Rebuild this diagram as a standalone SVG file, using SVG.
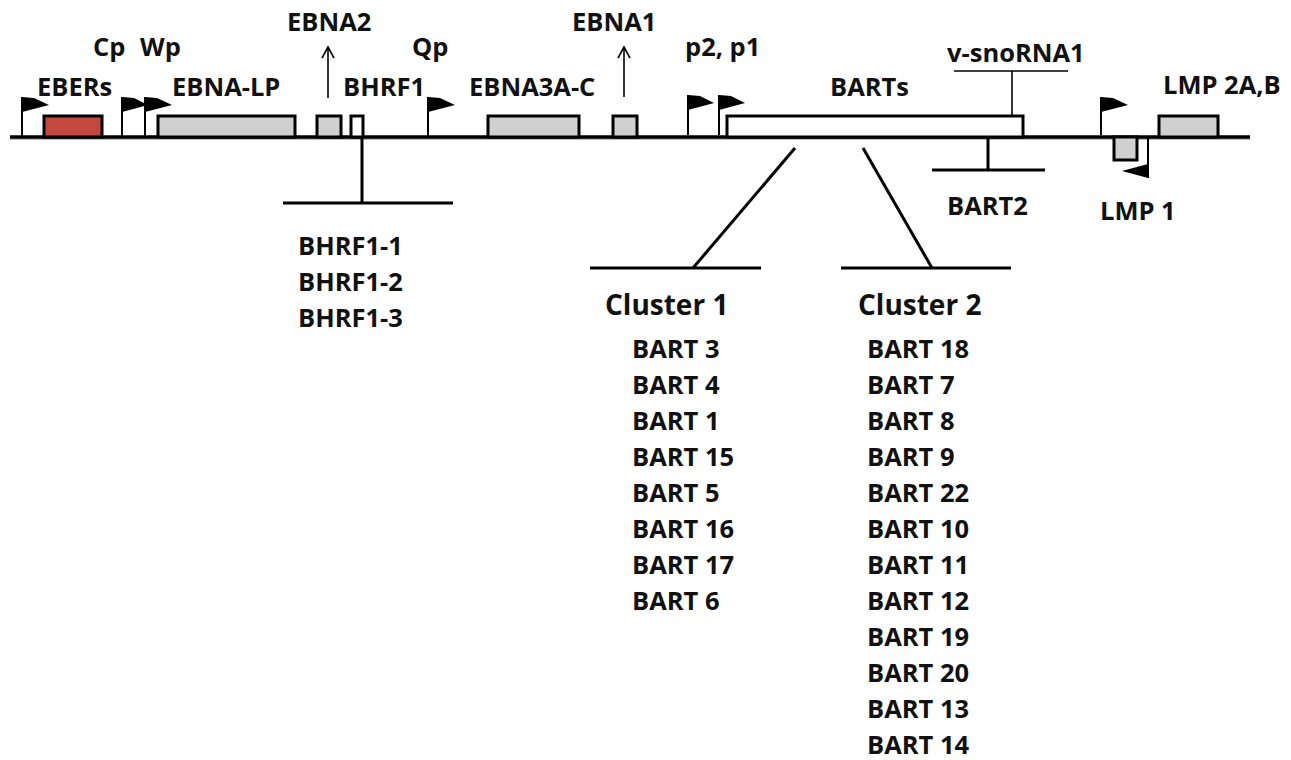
<svg xmlns="http://www.w3.org/2000/svg" width="1291" height="760" viewBox="0 0 1291 760">
<style>
text{font-family:"Open Sans","Liberation Sans",sans-serif;font-weight:bold;font-size:25.5px;fill:#111}
.cl{font-size:28px}
.box{stroke:#000;stroke-width:3}
.gray{fill:#d0d0d0}
.white{fill:#fff}
.red{fill:#c4483f}
.pole{stroke:#000;stroke-width:2;fill:none}
.flag{fill:#000}
.thick{stroke:#000;stroke-width:3;fill:none}
.thin{stroke:#000;stroke-width:1.6;fill:none}
</style>
<g id="genome">
<line x1="10" y1="138.5" x2="1250" y2="138.5" stroke="#bbb" stroke-width="3"/>
<line class="thick" x1="10" y1="137" x2="1250" y2="137" style="stroke-width:3.5"/>
</g>
<g id="EBERs">
<line class="pole" x1="22" y1="97" x2="22" y2="137"/>
<path class="flag" d="M22,97 L34,98 L49,105 L22,112 Z"/>
<rect class="box red" x="44" y="116" width="58" height="21"/>
<text x="37" y="96">EBERs</text>
</g>
<g id="Cp">
<line class="pole" x1="122" y1="97" x2="122" y2="137"/>
<path class="flag" d="M122,97 L134,98 L148,105 L122,112 Z"/>
<text x="93" y="56">Cp</text>
</g>
<g id="Wp">
<line class="pole" x1="145" y1="97" x2="145" y2="137"/>
<path class="flag" d="M145,97 L157,98 L172,105 L145,112 Z"/>
<text x="140" y="56">Wp</text>
</g>
<g id="EBNA-LP">
<rect class="box gray" x="158" y="116" width="137" height="21"/>
<text x="172" y="96">EBNA-LP</text>
</g>
<g id="EBNA2">
<rect class="box gray" x="317" y="116" width="24" height="21"/>
<text x="287" y="31">EBNA2</text>
</g>
<g id="BHRF1">
<rect class="box white" x="351" y="116" width="12" height="21"/>
<text x="343" y="96">BHRF1</text>
</g>
<g id="Qp">
<line class="pole" x1="428" y1="97" x2="428" y2="137"/>
<path class="flag" d="M428,97 L440,98 L455,105 L428,112 Z"/>
<text x="412" y="56">Qp</text>
</g>
<g id="EBNA3A-C">
<rect class="box gray" x="488" y="116" width="91" height="21"/>
<text x="469" y="96">EBNA3A-C</text>
</g>
<g id="EBNA1">
<rect class="box gray" x="613" y="116" width="24" height="21"/>
<text x="572" y="31">EBNA1</text>
</g>
<g id="p2p1">
<line class="pole" x1="688" y1="95" x2="688" y2="135"/>
<path class="flag" d="M688,95 L700,96 L714,103 L688,110 Z"/>
<line class="pole" x1="719" y1="95" x2="719" y2="135"/>
<path class="flag" d="M719,95 L731,96 L745,103 L719,110 Z"/>
<text x="685" y="56">p2, p1</text>
</g>
<g id="BARTs">
<rect class="box white" x="727" y="116" width="296" height="21"/>
<text x="830" y="96">BARTs</text>
</g>
<g id="v-snoRNA1">
<text x="947" y="62">v-snoRNA1</text>
</g>
<g id="BART2">
<text x="947" y="215">BART2</text>
</g>
<g id="LMP1">
<line class="pole" x1="1101" y1="97" x2="1101" y2="135"/>
<path class="flag" d="M1101,97 L1113,98 L1128,105 L1101,112 Z"/>
<rect class="box gray" x="1114" y="137" width="23" height="23"/>
<line class="pole" x1="1148" y1="137" x2="1148" y2="178"/>
<path class="flag" d="M1148,164 L1122,171 L1148,178 Z"/>
<text x="1100" y="220">LMP 1</text>
</g>
<g id="LMP2AB">
<rect class="box gray" x="1159" y="116" width="59" height="21"/>
<text x="1163" y="94">LMP 2A,B</text>
</g>
<g id="BHRF1-miRNAs">
<text x="298" y="255">BHRF1-1</text>
<text x="298" y="291">BHRF1-2</text>
<text x="298" y="327">BHRF1-3</text>
</g>
<g id="Cluster1">
<text class="cl" x="605" y="315">Cluster 1</text>
<text x="632" y="358">BART 3</text>
<text x="632" y="394">BART 4</text>
<text x="632" y="430">BART 1</text>
<text x="632" y="466">BART 15</text>
<text x="632" y="502">BART 5</text>
<text x="632" y="538">BART 16</text>
<text x="632" y="574">BART 17</text>
<text x="632" y="610">BART 6</text>
</g>
<g id="Cluster2">
<text class="cl" x="858" y="315">Cluster 2</text>
<text x="867" y="358">BART 18</text>
<text x="867" y="394">BART 7</text>
<text x="867" y="430">BART 8</text>
<text x="867" y="466">BART 9</text>
<text x="867" y="502">BART 22</text>
<text x="867" y="538">BART 10</text>
<text x="867" y="574">BART 11</text>
<text x="867" y="610">BART 12</text>
<text x="867" y="646">BART 19</text>
<text x="867" y="682">BART 20</text>
<text x="867" y="718">BART 13</text>
<text x="867" y="754">BART 14</text>
</g>
<g id="connectors">
<line class="thin" x1="328" y1="98" x2="328" y2="47"/>
<polyline class="thin" points="322,58 328,47 334,58"/>
<line class="thin" x1="624" y1="97" x2="624" y2="47"/>
<polyline class="thin" points="618,58 624,47 630,58"/>
<line class="thin" x1="954" y1="71" x2="1068" y2="71"/>
<line class="thin" x1="1012" y1="71" x2="1012" y2="116"/>
<line class="thick" x1="362" y1="137" x2="362" y2="203"/>
<line class="thick" x1="283" y1="203" x2="453" y2="203"/>
<line class="thick" x1="988" y1="137" x2="988" y2="170"/>
<line class="thick" x1="932" y1="170" x2="1045" y2="170"/>
<line class="thick" x1="795" y1="148" x2="693" y2="268"/>
<line class="thick" x1="590" y1="268" x2="761" y2="268"/>
<line class="thick" x1="863" y1="148" x2="932" y2="268"/>
<line class="thick" x1="841" y1="268" x2="1011" y2="268"/>
</g>
</svg>
